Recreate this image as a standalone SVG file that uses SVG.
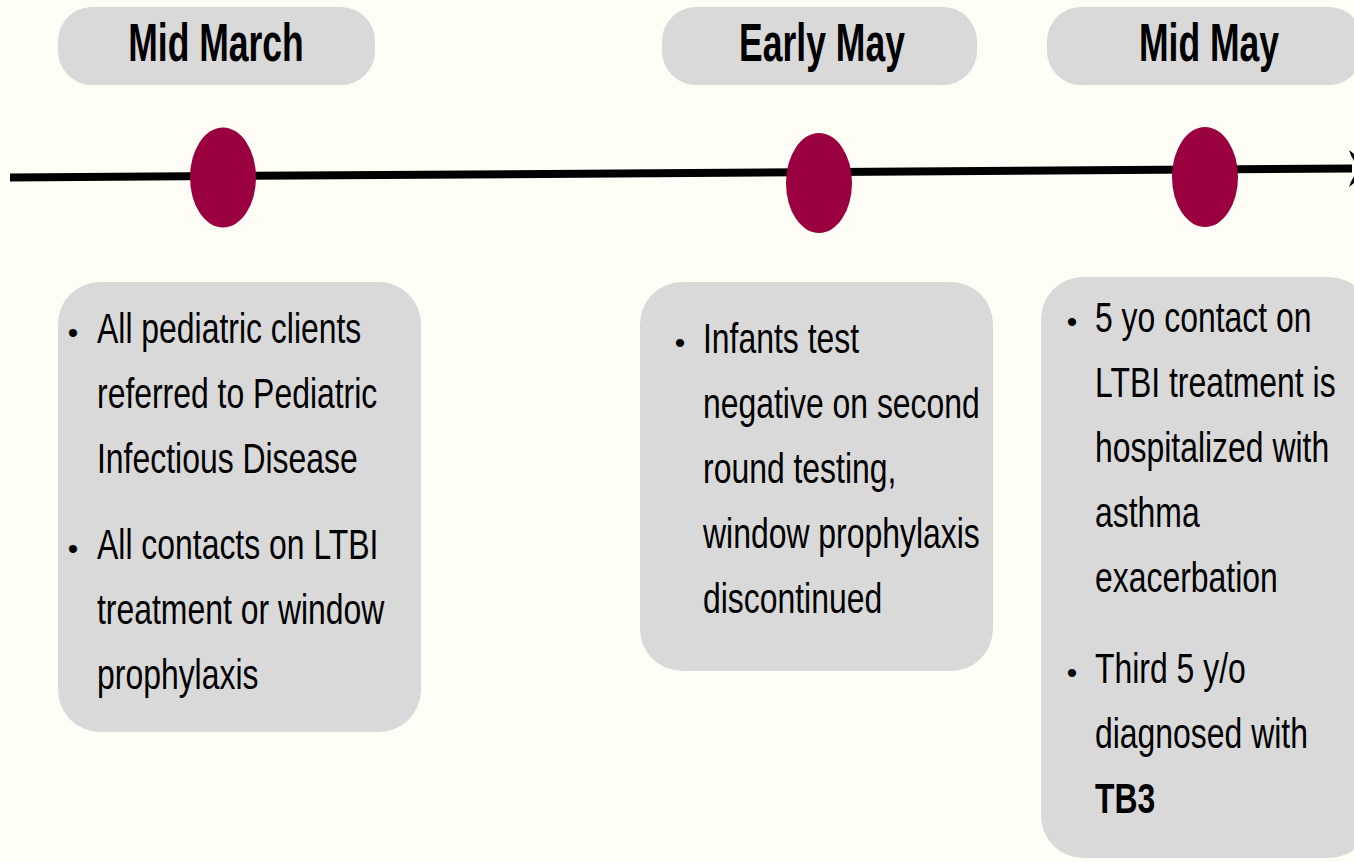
<svg xmlns="http://www.w3.org/2000/svg" width="1354" height="862" viewBox="0 0 1354 862">
<style>
.bg{fill:#FFFEF6}
.pill{fill:#D9D9D9}
.box{fill:#D9D9D9}
.dot{fill:#9A0040}
.title{font-family:"Liberation Sans",Arial,sans-serif;font-weight:bold;font-size:53px;fill:#000;text-anchor:middle}
.body{font-family:"Liberation Sans",Arial,sans-serif;font-size:42px;fill:#000}
.bul{font-family:"Liberation Sans",Arial,sans-serif;font-size:30px;fill:#000;text-anchor:middle}
.axis{stroke:#000;stroke-width:8;fill:none}
</style>
<rect class="bg" x="0" y="0" width="1354" height="862"/>
<g id="connectors">
<line class="axis" x1="10" y1="177.5" x2="1352" y2="168.5"/>
<path d="M1349,150 Q1352,160 1360,168.5 Q1352,177 1349,187 L1372,168.5 Z" fill="#000"/>
</g>
<g id="label-mid-march">
<rect class="pill" x="58" y="7" width="317" height="78" rx="34"/>
<text class="title" transform="translate(216,61) scale(0.67,1)">Mid March</text>
</g>
<g id="label-early-may">
<rect class="pill" x="662" y="7" width="315" height="78" rx="34"/>
<text class="title" transform="translate(822,61) scale(0.67,1)">Early May</text>
</g>
<g id="label-mid-may">
<rect class="pill" x="1047" y="7" width="316" height="78" rx="34"/>
<text class="title" transform="translate(1209,61) scale(0.67,1)">Mid May</text>
</g>
<g id="marker-mid-march"><ellipse class="dot" cx="223" cy="177.5" rx="33" ry="50"/></g>
<g id="marker-early-may"><ellipse class="dot" cx="819" cy="183" rx="33" ry="50"/></g>
<g id="marker-mid-may"><ellipse class="dot" cx="1205" cy="177" rx="33" ry="50"/></g>
<g id="box-mid-march">
<rect class="box" x="58" y="282" width="363" height="450" rx="42"/>
<text class="bul" x="73" y="343">•</text>
<text class="bul" x="73" y="559">•</text>
<g transform="translate(97,0) scale(0.76,1)">
<text class="body"><tspan x="0" y="343">All pediatric clients</tspan><tspan x="0" y="408">referred to Pediatric</tspan><tspan x="0" y="473">Infectious Disease</tspan><tspan x="0" y="559">All contacts on LTBI</tspan><tspan x="0" y="624">treatment or window</tspan><tspan x="0" y="689">prophylaxis</tspan></text>
</g>
</g>
<g id="box-early-may">
<rect class="box" x="640" y="282" width="353" height="389" rx="42"/>
<text class="bul" x="680" y="353">•</text>
<g transform="translate(703,0) scale(0.76,1)">
<text class="body"><tspan x="0" y="353">Infants test</tspan><tspan x="0" y="418">negative on second</tspan><tspan x="0" y="483">round testing,</tspan><tspan x="0" y="548">window prophylaxis</tspan><tspan x="0" y="613">discontinued</tspan></text>
</g>
</g>
<g id="box-mid-may">
<rect class="box" x="1041" y="277" width="330" height="581" rx="42"/>
<text class="bul" x="1072" y="332">•</text>
<text class="bul" x="1072" y="683">•</text>
<g transform="translate(1095,0) scale(0.76,1)">
<text class="body"><tspan x="0" y="332">5 yo contact on</tspan><tspan x="0" y="397">LTBI treatment is</tspan><tspan x="0" y="462">hospitalized with</tspan><tspan x="0" y="527">asthma</tspan><tspan x="0" y="592">exacerbation</tspan><tspan x="0" y="683">Third 5 y/o</tspan><tspan x="0" y="748">diagnosed with</tspan><tspan x="0" y="813" font-weight="bold">TB3</tspan></text>
</g>
</g>
</svg>
